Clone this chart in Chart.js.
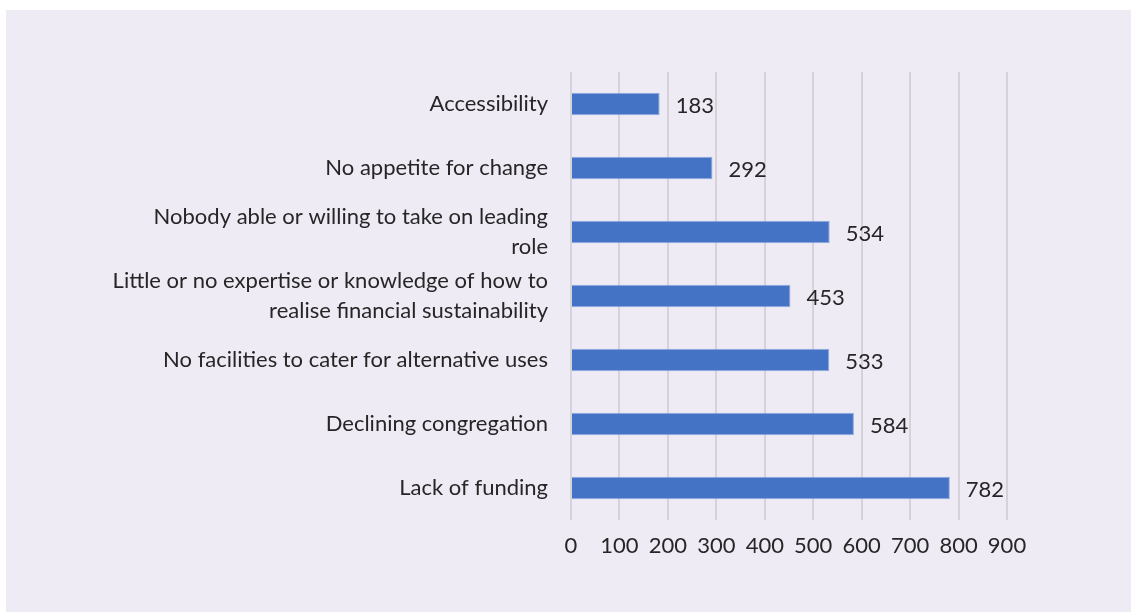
<!DOCTYPE html>
<html>
<head>
<meta charset="utf-8">
<script src="https://cdn.jsdelivr.net/npm/chart.js@4"></script>
<style>
  html, body { margin: 0; padding: 0; background: #ffffff; }
  #wrap { position: absolute; left: 6px; top: 10px; width: 1125px; height: 602px; background: #eeebf5; }
</style>
</head>
<body>
<div id="wrap"><canvas id="chart" width="1125" height="602"></canvas></div>
<script>
const categories = [
  "Accessibility",
  "No appetite for change",
  ["Nobody able or willing to take on leading", "role"],
  ["Little or no expertise or knowledge of how to", "realise financial sustainability"],
  "No facilities to cater for alternative uses",
  "Declining congregation",
  "Lack of funding",
];
const counts = [183, 292, 534, 453, 533, 584, 782];
const xTicks = [0, 100, 200, 300, 400, 500, 600, 700, 800, 900];

const FONT = "Lato, 'Open Sans', sans-serif";
const TEXT = "#262626";

// value labels at the end of each bar
const barLabels = {
  id: "barLabels",
  afterDatasetsDraw(chart) {
    const ctx = chart.ctx;
    const meta = chart.getDatasetMeta(0);
    ctx.save();
    ctx.font = "22px " + FONT;
    ctx.fillStyle = TEXT;
    ctx.textAlign = "left";
    ctx.textBaseline = "middle";
    meta.data.forEach((bar, i) => {
      ctx.fillText(String(counts[i]), bar.x + 16, bar.y + 2);
    });
    ctx.restore();
  },
};

new Chart(document.getElementById("chart"), {
  type: "bar",
  data: {
    labels: categories,
    datasets: [{
      data: counts,
      backgroundColor: "#4472c4",
      borderColor: "#8faadc",
      borderWidth: 1,
      barPercentage: 0.35,
      categoryPercentage: 1,
    }],
  },
  options: {
    indexAxis: "y",
    responsive: false,
    animation: false,
    layout: { padding: { left: 0, top: 62, right: 124, bottom: 0 } },
    plugins: { legend: { display: false }, tooltip: { enabled: false } },
    scales: {
      x: {
        min: 0,
        max: 900,
        afterBuildTicks: (scale) => { scale.ticks = xTicks.map((v) => ({ value: v })); },
        afterFit: (scale) => { scale.height = 92; },
        border: { display: false },
        grid: { color: "#d5d2da", lineWidth: 2, drawTicks: false },
        ticks: { color: TEXT, font: { family: FONT, size: 22 }, padding: 13 },
      },
      y: {
        afterFit: (scale) => { scale.width = 565; },
        border: { display: false },
        grid: { display: false, drawTicks: false },
        ticks: { color: TEXT, font: { family: FONT, size: 22, lineHeight: 1.33 }, padding: 23 },
      },
    },
  },
  plugins: [barLabels],
});
</script>
</body>
</html>
